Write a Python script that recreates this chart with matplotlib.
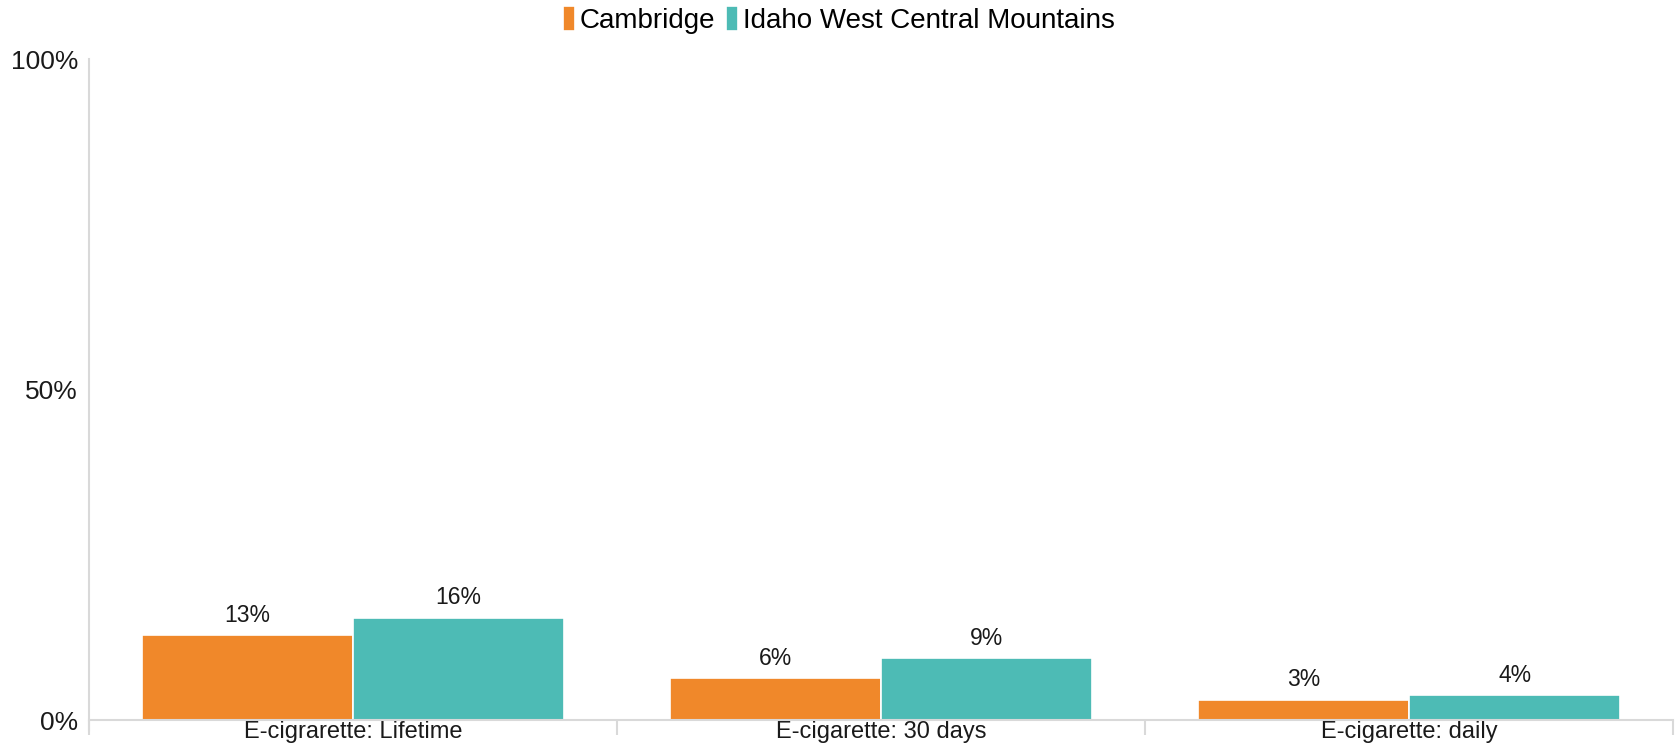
import numpy as np
import matplotlib
matplotlib.use("Agg")
import matplotlib.pyplot as plt

categories = ["E-cigrarette: Lifetime", "E-cigarette: 30 days", "E-cigarette: daily"]
series_names = ["Cambridge", "Idaho West Central Mountains"]
cambridge = [12.8, 6.3, 3.1]
idaho = [15.5, 9.4, 3.8]
cambridge_labels = ["13%", "6%", "3%"]
idaho_labels = ["16%", "9%", "4%"]
colors = ["#F0882A", "#4DBBB5"]

plt.rcParams["font.family"] = ["Liberation Sans", "DejaVu Sans"]

fig = plt.figure(figsize=(16.77, 7.48), dpi=100)
ax = fig.add_axes([0.0531, 0.0374, 0.9445, 0.8836])

x = np.arange(len(categories))
w = 0.4
b1 = ax.bar(x - w / 2, cambridge, w, color=colors[0], edgecolor="white", linewidth=1.2, label=series_names[0])
b2 = ax.bar(x + w / 2, idaho, w, color=colors[1], edgecolor="white", linewidth=1.2, label=series_names[1])
ax.bar_label(b1, labels=cambridge_labels, padding=6, fontsize=16.5, color="#1a1a1a")
ax.bar_label(b2, labels=idaho_labels, padding=6, fontsize=16.5, color="#1a1a1a")

ax.set_xlim(-0.5, 2.5)
ax.set_ylim(0, 100)
ax.set_yticks([0, 50, 100])
ax.set_yticklabels(["0%", "50%", "100%"], fontsize=19)
ax.tick_params(axis="y", length=0, pad=8, colors="#1a1a1a")

ax.set_xticks(x)
ax.set_xticklabels(categories, fontsize=17)
ax.tick_params(axis="x", which="major", length=0, pad=1, colors="#1a1a1a")
ax.set_xticks([-0.5, 0.5, 1.5, 2.5], minor=True)
ax.tick_params(axis="x", which="minor", length=11, width=1.5, color="#d9d9d9")

for s in ["top", "right"]:
    ax.spines[s].set_visible(False)
ax.spines["left"].set_color("#d9d9d9")
ax.spines["left"].set_linewidth(1.5)
ax.spines["left"].set_bounds(-1.5, 100)
ax.spines["bottom"].set_color("#d9d9d9")
ax.spines["bottom"].set_linewidth(1.5)

fig.legend(loc="upper center", bbox_to_anchor=(0.5, 1.025), ncol=2, frameon=False,
           fontsize=20, handlelength=0.45, handleheight=1.0, handletextpad=0.15,
           columnspacing=0.4)

fig.savefig("out.png", dpi=100)
